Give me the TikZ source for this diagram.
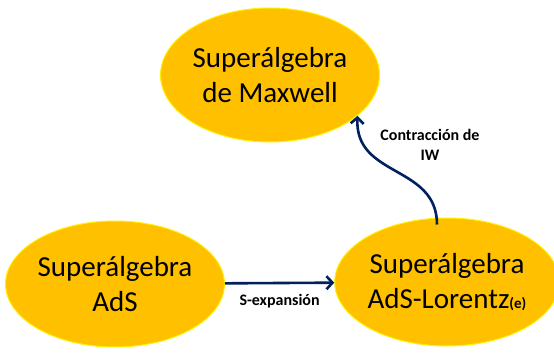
\documentclass[tikz,border=0pt]{standalone}
\usepackage{fontspec}
\setmainfont{Carlito}
\usetikzlibrary{shapes.geometric,arrows.meta}
\definecolor{oro}{RGB}{255,192,0}
\definecolor{borde}{RGB}{255,240,0}
\definecolor{azul}{RGB}{0,32,96}
\begin{document}
\begin{tikzpicture}[x=1pt,y=-1pt,
    alg/.style={ellipse,fill=oro,draw=borde,line width=1pt,inner sep=0pt,
      align=center,font=\fontsize{29}{35}\selectfont},
    flecha/.style={azul,line width=2.6pt,-{Straight Barb[length=6pt,width=13pt]}},
    etiq/.style={text=black,align=center,font=\fontsize{16}{20}\selectfont\bfseries}]
  \useasboundingbox (0,0) rectangle (554,353);
  \node[alg,minimum width=216pt,minimum height=134pt] (maxwell) at (270,75)
    {Superálgebra\\de Maxwell};
  \node[alg,minimum width=216pt,minimum height=126pt] (ads) at (115,284)
    {Superálgebra\\AdS};
  \node[alg,minimum width=210pt,minimum height=128pt] (adsl) at (447,282)
    {Superálgebra\\AdS-Lorentz{\fontsize{15}{15}\selectfont\bfseries(e)}};
  \draw[flecha] (ads) -- node[etiq,below=7pt] (sexp) {S-expansión} (adsl);
  \draw[flecha] ([xshift=-10pt,yshift=-7pt]adsl.north)
    .. controls +(0,-60) and +(-3,62) .. (maxwell.-25);
  \node[etiq] (contr) at (430,145) {Contracción de\\IW};
\end{tikzpicture}
\end{document}
